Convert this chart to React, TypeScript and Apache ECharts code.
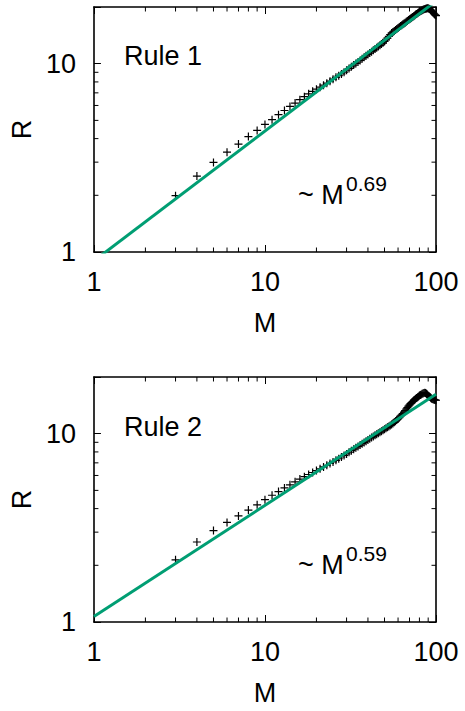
import React, { useEffect, useRef } from "react";
import * as echarts from "echarts";

// ---- data ----
const mValues = [
  3, 4, 5, 6, 7, 8, 9, 10, 11, 12,
  13, 14, 15, 16, 17, 18, 19, 20, 21, 22,
  23, 24, 25, 26, 27, 28, 29, 30, 31, 32,
  33, 34, 35, 36, 37, 38, 39, 40, 41, 42,
  43, 44, 45, 46, 47, 48, 49, 50, 51, 52,
  53, 54, 55, 56, 57, 58, 59, 60, 61, 62,
  63, 64, 65, 66, 67, 68, 69, 70, 71, 72,
  73, 74, 75, 76, 77, 78, 79, 80, 81, 82,
  83, 84, 85, 86, 87, 88, 89, 90, 91, 92,
  93, 94, 95, 96, 97, 98, 99, 100,
];

const rule1R = [
  1.99, 2.53, 2.99, 3.39, 3.74, 4.1, 4.42, 4.76, 5.04, 5.36,
  5.64, 5.93, 6.18, 6.44, 6.68, 6.92, 7.13, 7.32, 7.5, 7.69,
  7.88, 8.07, 8.27, 8.46, 8.64, 8.82, 9.01, 9.23, 9.42, 9.62,
  9.83, 10.03, 10.21, 10.41, 10.61, 10.81, 11.01, 11.2, 11.39, 11.58,
  11.77, 11.96, 12.15, 12.34, 12.52, 12.73, 12.91, 13.13, 13.37, 13.67,
  13.98, 14.26, 14.54, 14.72, 14.91, 15.11, 15.3, 15.48, 15.66, 15.83,
  16.01, 16.18, 16.35, 16.52, 16.7, 16.87, 17.04, 17.22, 17.39, 17.55,
  17.72, 17.88, 18.05, 18.22, 18.38, 18.55, 18.71, 18.88, 19.0, 19.11,
  19.22, 19.34, 19.46, 19.52, 19.59, 19.66, 19.7, 19.72, 19.6, 19.5,
  19.3, 19.1, 18.9, 18.7, 18.5, 18.3, 18.15, 18.0,
];

const rule2R = [
  2.14, 2.66, 3.06, 3.38, 3.66, 3.93, 4.19, 4.46, 4.71, 4.93,
  5.15, 5.35, 5.55, 5.74, 5.91, 6.07, 6.22, 6.37, 6.51, 6.66,
  6.8, 6.95, 7.08, 7.22, 7.36, 7.52, 7.66, 7.81, 7.97, 8.12,
  8.27, 8.41, 8.56, 8.7, 8.85, 8.99, 9.12, 9.26, 9.4, 9.53,
  9.66, 9.8, 9.93, 10.06, 10.18, 10.31, 10.44, 10.56, 10.69, 10.81,
  10.93, 11.05, 11.2, 11.34, 11.49, 11.66, 11.83, 11.98, 12.18, 12.39,
  12.59, 12.8, 13.03, 13.27, 13.52, 13.76, 14.01, 14.22, 14.45, 14.63,
  14.82, 15.0, 15.16, 15.31, 15.47, 15.62, 15.78, 15.93, 16.05, 16.16,
  16.28, 16.36, 16.43, 16.48, 16.43, 16.32, 16.15, 15.95, 15.8, 15.65,
  15.5, 15.4, 15.3, 15.25, 15.2, 15.15, 15.1, 15.05,
];

// power-law fit lines (end points, M = 1 and M = 100)
const fit1 = [
  [1, 0.897],
  [100, 21.5],
];
const fit2 = [
  [1, 1.07],
  [100, 16.2],
];

const xTickLabels = ["1", "10", "100"];
const yTickLabels = ["1", "10"];
const xMinorTicks = [2, 3, 4, 5, 6, 7, 8, 9, 20, 30, 40, 50, 60, 70, 80, 90];
const yMinorTicks = [2, 3, 4, 5, 6, 7, 8, 9];
const panelLabels = ["Rule 1", "Rule 2"];
const exponents = ["0.69", "0.59"];

// ---- layout / style ----
const FONT = '"Liberation Sans", Arial, Helvetica, sans-serif';
const GRID_TOPS = [7, 377];
const GRID_LEFT = 88;
const GRID_W = 348;
const GRID_H = 245;
const GREEN = "#009e73";
const PLUS =
  "path://M3.4,0 H4.6 V3.4 H8 V4.6 H4.6 V8 H3.4 V4.6 H0 V3.4 H3.4 Z";

function labelFmt(labels: string[]) {
  return (v: number) => {
    const r = Math.round(v);
    if (Math.abs(v - r) < 1e-6 && labels.includes(String(r))) return String(r);
    return "";
  };
}

function makeX(gridIndex: number, position: "top" | "bottom") {
  const main = position === "bottom";
  return {
    type: "log",
    logBase: 10,
    gridIndex,
    position,
    min: 1,
    max: 100,
    name: main ? "M" : "",
    nameLocation: "middle",
    nameGap: 57,
    nameTextStyle: { fontSize: 27, color: "#000", fontFamily: FONT },
    axisLine: { show: true, onZero: false, lineStyle: { color: "#000", width: 1.6 } },
    axisTick: { show: true, inside: true, length: 7, lineStyle: { color: "#000", width: 1 } },
    minorTick: { show: false },
    splitLine: { show: false },
    axisLabel: {
      show: main,
      margin: 16,
      fontSize: 27,
      color: "#000",
      fontFamily: FONT,
      formatter: labelFmt(xTickLabels),
    },
  };
}

function makeY(gridIndex: number, position: "left" | "right") {
  const main = position === "left";
  return {
    type: "log",
    logBase: 10,
    gridIndex,
    position,
    min: 1,
    max: 20,
    name: main ? "R" : "",
    nameLocation: "middle",
    nameGap: 52,
    nameTextStyle: { fontSize: 27, color: "#000", fontFamily: FONT },
    axisLine: { show: true, onZero: false, lineStyle: { color: "#000", width: 1.6 } },
    axisTick: { show: true, inside: true, length: 7, lineStyle: { color: "#000", width: 1 } },
    minorTick: { show: false },
    splitLine: { show: false },
    axisLabel: {
      show: main,
      margin: 18,
      fontSize: 27,
      color: "#000",
      fontFamily: FONT,
      formatter: labelFmt(yTickLabels),
    },
  };
}

function minorTicksX(gi: number) {
  return {
    type: "custom",
    xAxisIndex: gi * 2,
    yAxisIndex: gi * 2,
    silent: true,
    clip: false,
    data: xMinorTicks.map((v) => [v, 1]),
    renderItem: (params: any, api: any) => {
      const x = api.coord([api.value(0), 1])[0];
      const cs = params.coordSys;
      const b = cs.y + cs.height;
      const t = cs.y;
      return {
        type: "group",
        children: [
          { type: "line", shape: { x1: x, y1: b, x2: x, y2: b - 4.5 }, style: { stroke: "#000", lineWidth: 1 } },
          { type: "line", shape: { x1: x, y1: t, x2: x, y2: t + 4.5 }, style: { stroke: "#000", lineWidth: 1 } },
        ],
      };
    },
  };
}

function minorTicksY(gi: number) {
  return {
    type: "custom",
    xAxisIndex: gi * 2,
    yAxisIndex: gi * 2,
    silent: true,
    clip: false,
    data: yMinorTicks.map((v) => [1, v]),
    renderItem: (params: any, api: any) => {
      const y = api.coord([1, api.value(1)])[1];
      const cs = params.coordSys;
      const l = cs.x;
      const r = cs.x + cs.width;
      return {
        type: "group",
        children: [
          { type: "line", shape: { x1: l, y1: y, x2: l + 4.5, y2: y }, style: { stroke: "#000", lineWidth: 1 } },
          { type: "line", shape: { x1: r, y1: y, x2: r - 4.5, y2: y }, style: { stroke: "#000", lineWidth: 1 } },
        ],
      };
    },
  };
}

function txt(text: string, x: number, y: number, size: number) {
  return {
    type: "text",
    x,
    y,
    silent: true,
    style: {
      text,
      fontSize: size,
      fontFamily: FONT,
      fill: "#000",
      align: "left",
      verticalAlign: "middle",
      textAlign: "left",
      textVerticalAlign: "middle",
    },
  };
}

function buildOption() {
  const series: any[] = [];
  const pointSets = [rule1R, rule2R];
  const fits = [fit1, fit2];
  for (let gi = 0; gi < 2; gi++) {
    series.push({
      type: "scatter",
      xAxisIndex: gi * 2,
      yAxisIndex: gi * 2,
      symbol: PLUS,
      symbolSize: 8,
      itemStyle: { color: "#000", opacity: 1 },
      data: mValues.map((m, i) => [m, pointSets[gi][i]]),
    });
    series.push({
      type: "line",
      xAxisIndex: gi * 2,
      yAxisIndex: gi * 2,
      symbol: "none",
      clip: true,
      lineStyle: { color: GREEN, width: 3 },
      data: fits[gi],
    });
    series.push(minorTicksX(gi));
    series.push(minorTicksY(gi));
  }
  return {
    animation: false,
    backgroundColor: "#fff",
    textStyle: { fontFamily: FONT },
    grid: GRID_TOPS.map((top) => ({
      left: GRID_LEFT,
      top,
      width: GRID_W,
      height: GRID_H,
      containLabel: false,
    })),
    xAxis: [makeX(0, "bottom"), makeX(0, "top"), makeX(1, "bottom"), makeX(1, "top")],
    yAxis: [makeY(0, "left"), makeY(0, "right"), makeY(1, "left"), makeY(1, "right")],
    series,
    graphic: [
      txt(panelLabels[0], 124, 56, 27),
      txt("~ M", 298, 195, 27),
      txt(exponents[0], 346, 183, 21),
      txt(panelLabels[1], 124, 427, 27),
      txt("~ M", 298, 565, 27),
      txt(exponents[1], 346, 553, 21),
    ],
  };
}

export default function App() {
  const ref = useRef<HTMLDivElement>(null);
  useEffect(() => {
    if (!ref.current) return;
    const chart = echarts.init(ref.current, null, { renderer: "svg" });
    chart.setOption(buildOption() as any);
    return () => chart.dispose();
  }, []);
  return (
    <div
      ref={ref}
      style={{ position: "fixed", left: 0, top: 0, width: 465, height: 711, background: "#fff" }}
    />
  );
}
